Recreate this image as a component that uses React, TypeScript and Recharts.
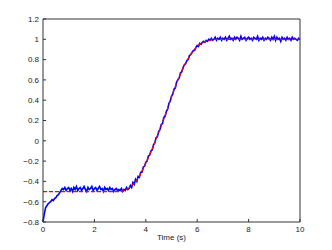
import React from "react";
import { LineChart, Line, XAxis, YAxis } from "recharts";

// time samples for the measured (blue) signal, 0..10 s in 0.05 s steps
const blueTimes: number[] = Array.from({ length: 201 }, (_, i) => Math.round(i * 5) / 100);

const blueValues: number[] = [
  -0.80, -0.72, -0.66, -0.64, -0.62, -0.61, -0.60, -0.58, -0.59, -0.57,
  -0.56, -0.54, -0.53, -0.51, -0.49, -0.47, -0.48, -0.46, -0.49, -0.47,
  -0.46, -0.49, -0.47, -0.50, -0.46, -0.48, -0.45, -0.49, -0.47, -0.46,
  -0.49, -0.47, -0.45, -0.48, -0.50, -0.46, -0.48, -0.47, -0.45, -0.49,
  -0.47, -0.46, -0.49, -0.47, -0.45, -0.48, -0.47, -0.50, -0.46, -0.48,
  -0.47, -0.49, -0.46, -0.48, -0.47, -0.50, -0.48, -0.47, -0.49, -0.48,
  -0.49, -0.47, -0.50, -0.48, -0.49, -0.46, -0.48, -0.47, -0.44, -0.46,
  -0.41, -0.43, -0.38, -0.40, -0.35, -0.36, -0.31, -0.31, -0.26, -0.25,
  -0.21, -0.20, -0.15, -0.14, -0.10, -0.09, -0.04, -0.02, 0.03, 0.04,
  0.09, 0.11, 0.16, 0.17, 0.23, 0.24, 0.29, 0.31, 0.37, 0.39,
  0.44, 0.46, 0.51, 0.52, 0.58, 0.60, 0.62, 0.67, 0.68, 0.72,
  0.75, 0.76, 0.79, 0.80, 0.84, 0.85, 0.87, 0.89, 0.89, 0.92,
  0.94, 0.93, 0.96, 0.95, 0.97, 0.98, 0.97, 0.99, 0.98, 1.00,
  0.99, 1.01, 0.99, 1.00, 1.02, 0.99, 1.01, 1.00, 1.02, 0.99,
  1.01, 1.00, 1.02, 0.99, 1.01, 1.03, 1.00, 1.01, 0.99, 1.02,
  1.00, 1.02, 1.01, 0.99, 1.03, 1.00, 1.01, 1.02, 0.99, 1.01,
  1.02, 1.00, 1.01, 0.99, 1.02, 1.01, 1.00, 1.03, 0.99, 1.01,
  1.00, 1.02, 0.99, 1.01, 1.00, 1.02, 1.01, 0.99, 1.02, 1.00,
  1.03, 0.99, 1.02, 1.00, 1.01, 0.98, 1.02, 1.00, 1.01, 0.99,
  1.02, 1.00, 1.01, 0.99, 1.02, 1.00, 1.01, 1.00, 0.99, 1.01,
  1.00,
];

// reference trajectory (red dashed)
const refTimes: number[] = [0, 3.0, 3.25, 3.5, 3.75, 4.0, 4.25, 4.5, 4.75, 5.0, 5.25, 5.5, 5.75, 6.0, 6.25, 6.5, 6.75, 7.0, 10];
const refValues: number[] = [-0.5, -0.5, -0.48, -0.43, -0.35, -0.22, -0.08, 0.08, 0.25, 0.43, 0.6, 0.74, 0.85, 0.93, 0.97, 0.99, 1.0, 1.0, 1.0];

const xTicks: number[] = [0, 2, 4, 6, 8, 10];
const yTicks: number[] = [-0.8, -0.6, -0.4, -0.2, 0, 0.2, 0.4, 0.6, 0.8, 1, 1.2];

const blueData = blueTimes.map((t, i) => ({ t, v: blueValues[i] }));
const refData = refTimes.map((t, i) => ({ t, v: refValues[i] }));

const fmt = (v: number) => {
  const s = v === 0 ? "0" : String(Number(v.toFixed(1)));
  return s.replace("-", "\u2212");
};

const FONT = "'Liberation Sans', Arial, sans-serif";
const AX = "#333";

export default function App() {
  return (
    <LineChart width={316} height={234} margin={{ top: 10, right: 23, bottom: 0, left: 0 }}>
      <XAxis
        xAxisId="b"
        dataKey="t"
        type="number"
        domain={[0, 10]}
        ticks={xTicks}
        tickFormatter={fmt}
        height={20}
        stroke={AX}
        tickSize={-3}
        tickMargin={7}
        tick={{ fontSize: 8, fill: "#222", fontFamily: FONT }}
        label={{ value: "Time (s)", position: "insideBottom", offset: 2, fontSize: 8, fill: "#222", fontFamily: FONT }}
      />
      <XAxis
        xAxisId="top"
        orientation="top"
        dataKey="t"
        type="number"
        domain={[0, 10]}
        ticks={xTicks}
        height={1}
        stroke={AX}
        tickSize={-3}
        tick={false}
      />
      <YAxis
        yAxisId="l"
        type="number"
        domain={[-0.8, 1.2]}
        ticks={yTicks}
        tickFormatter={fmt}
        width={35}
        stroke={AX}
        tickSize={-3}
        tickMargin={7}
        tick={{ fontSize: 8, fill: "#222", fontFamily: FONT }}
        allowDataOverflow
      />
      <YAxis
        yAxisId="right"
        orientation="right"
        type="number"
        domain={[-0.8, 1.2]}
        ticks={yTicks}
        width={1}
        stroke={AX}
        tickSize={-3}
        tick={false}
        allowDataOverflow
      />
      <Line
        xAxisId="b"
        yAxisId="l"
        data={blueData}
        dataKey="v"
        type="linear"
        stroke="#0000ff"
        strokeWidth={1.6}
        dot={false}
        isAnimationActive={false}
      />
      <Line
        xAxisId="top"
        yAxisId="right"
        data={refData}
        dataKey="v"
        type="monotone"
        stroke="#ff0000"
        strokeWidth={1.2}
        strokeDasharray="4 2"
        dot={false}
        isAnimationActive={false}
      />
    </LineChart>
  );
}
